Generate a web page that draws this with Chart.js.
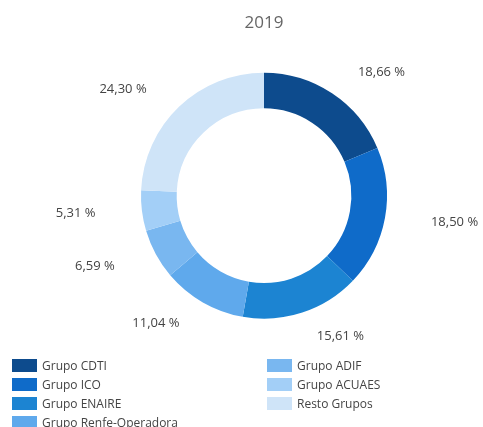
<!DOCTYPE html>
<html>
<head>
<meta charset="utf-8">
<script src="https://cdn.jsdelivr.net/npm/chart.js@4"></script>
<style>
  html, body { margin: 0; padding: 0; background: #fff; }
  #wrap { position: absolute; left: 0; top: 0; width: 483px; height: 427px; }
  #legend {
    position: absolute; left: 12px; top: 356px; width: 470px;
    font-family: "Open Sans", "Noto Sans", sans-serif; font-size: 12px; color: #444;
    display: grid; grid-template-columns: 255px 200px; grid-auto-flow: column;
    grid-template-rows: repeat(4, 19px);
  }
  .item { display: flex; align-items: center; white-space: nowrap; }
  .box { width: 25px; height: 13px; margin-right: 5px; }
</style>
</head>
<body>
<div id="wrap"><canvas id="myChart"></canvas></div>
<div id="legend"></div>
<script>
"use strict";
// Data
const labels = ["Grupo CDTI", "Grupo ICO", "Grupo ENAIRE", "Grupo Renfe-Operadora", "Grupo ADIF", "Grupo ACUAES", "Resto Grupos"];
const shares = [18.66, 18.50, 15.61, 11.04, 6.59, 5.31, 24.30];
const colors = ["#0d4b8d", "#0f6bc9", "#1c84d2", "#5fa9ec", "#79b7f0", "#a3cff7", "#cfe4f8"];
const title = "2019";

// labels outside the ring, at each slice's middle angle (on a flat ellipse)
const outsideLabels = {
    id: "outsideLabels",
    afterDatasetsDraw(chart) {
        const ctx = chart.ctx;
        const meta = chart.getDatasetMeta(0);
        ctx.save();
        ctx.font = "13px 'Open Sans', 'Noto Sans', sans-serif";
        ctx.fillStyle = "#444";
        ctx.textBaseline = "middle";
        meta.data.forEach((arc, i) => {
            const p = arc.getProps(["x", "y", "startAngle", "endAngle", "outerRadius"], true);
            const a = (p.startAngle + p.endAngle) / 2;
            const x = p.x + Math.cos(a) * p.outerRadius * 1.38;
            const y = p.y + Math.sin(a) * p.outerRadius * 1.2;
            ctx.textAlign = x >= p.x ? "left" : "right";
            const txt = shares[i].toFixed(2).replace(".", ",") + " %";
            ctx.fillText(txt, x, y);
        });
        ctx.restore();
    },
};

const data = {
    labels: labels,
    datasets: [
        {
            data: shares,
            backgroundColor: colors,
            borderWidth: 0,
        },
    ],
};

const config = {
    type: "doughnut",
    data: data,
    options: {
        responsive: false,
        animation: false,
        cutout: "71%",
        layout: { padding: { left: 141, right: 96, top: 0, bottom: 108 } },
        plugins: {
            legend: { display: false },
            tooltip: { enabled: false },
            title: {
                display: true,
                text: title,
                color: "#666",
                font: { family: "'Open Sans', 'Noto Sans', sans-serif", size: 17, weight: "normal" },
                padding: { top: 13, bottom: 39 },
            },
        },
    },
    plugins: [outsideLabels],
};

const canvas = document.getElementById("myChart");
canvas.width = 483;
canvas.height = 427;
const myChart = new Chart(canvas, config);

// legend in two columns
const legend = document.getElementById("legend");
labels.forEach((l, i) => {
    const item = document.createElement("div");
    item.className = "item";
    item.innerHTML = '<span class="box" style="background:' + colors[i] + '"></span>' + l;
    legend.appendChild(item);
});
</script>
</body>
</html>
